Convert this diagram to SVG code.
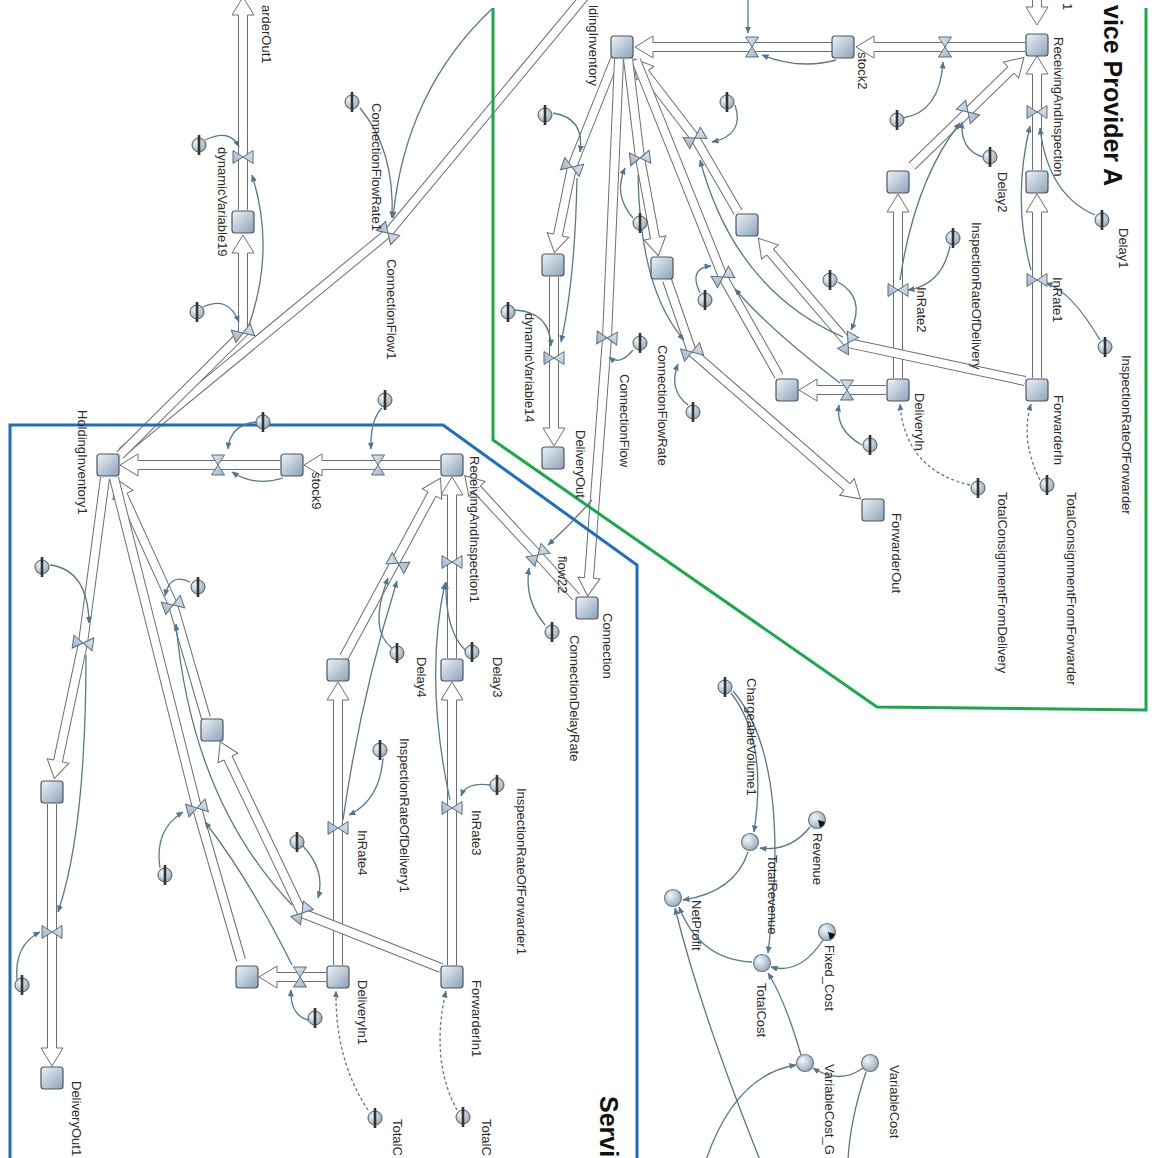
<svg xmlns="http://www.w3.org/2000/svg" xmlns:xlink="http://www.w3.org/1999/xlink" width="1155" height="1158" viewBox="0 0 1155 1158">
<style>
.bg{fill:#fff}
.po{fill:none;stroke:#6e6e6e;stroke-width:10;stroke-linejoin:miter}
.pi{fill:none;stroke:#fff;stroke-width:8;stroke-linejoin:miter}
.pa{marker-end:url(#pah)}
.cn{fill:none;stroke:#56798f;stroke-width:1.3;marker-end:url(#cah)}
.cx{fill:none;stroke:#56798f;stroke-width:1.3}
.dc{stroke-dasharray:3 2.5}
.lb{font-family:"Liberation Sans",Arial,sans-serif;font-size:13px;fill:#2b2b2b}
.tt{font-family:"Liberation Sans",Arial,sans-serif;font-size:25px;font-weight:bold;fill:#111}
.gb{fill:none;stroke:#19a84a;stroke-width:3}
.bb{fill:none;stroke:#1b6fc2;stroke-width:3}
</style>
<defs>
<linearGradient id="sg" x1="0" y1="0" x2="1" y2="1"><stop offset="0" stop-color="#eef3f7"/><stop offset="1" stop-color="#8aa2b8"/></linearGradient>
<radialGradient id="cg" cx="0.35" cy="0.35" r="0.75"><stop offset="0" stop-color="#f2f6f9"/><stop offset="1" stop-color="#8ea4b7"/></radialGradient>
<linearGradient id="vg" x1="0" y1="0" x2="1" y2="1"><stop offset="0" stop-color="#dbe6ee"/><stop offset="1" stop-color="#9fb6c8"/></linearGradient>
<marker id="pah" markerUnits="userSpaceOnUse" orient="auto" viewBox="-2 -13 26 26" markerWidth="26" markerHeight="26" refX="0" refY="0" overflow="visible"><path d="M0,-4.5 L0,-11 L18,0 L0,11 L0,4.5" fill="#fff" stroke="#6e6e6e" stroke-width="1"/></marker>
<marker id="cah" markerUnits="userSpaceOnUse" orient="auto" viewBox="0 0 7 6" markerWidth="7" markerHeight="6" refX="6.5" refY="3"><path d="M0,0 L7,3 L0,6 Z" fill="#4f7590"/></marker>
<rect id="stk" x="-11" y="-11" width="22" height="22" rx="3" fill="url(#sg)" stroke="#4b5660" stroke-width="1.2"/>
<g id="vlv"><path d="M-6.5,-10 L6.5,-10 L0,0 Z M-6.5,10 L6.5,10 L0,0 Z" fill="url(#vg)" stroke="#5d6d79" stroke-width="1"/></g>
<g id="gh"><circle r="7" fill="url(#cg)" stroke="#555" stroke-width="1"/><line x1="0" y1="-10" x2="0" y2="10" stroke="#333" stroke-width="2.6"/></g>
<circle id="cv" r="8.5" fill="url(#cg)" stroke="#6a7884" stroke-width="1.2"/>
<path id="wedge" d="M1,0 L8,2 A8,8 0 0 1 3,7.5 Z" fill="#111"/>
<path id="p1" d="M832 47H653"/>
<path id="p2" d="M1025 47H874"/>
<path id="p3" d="M1037 -10V7"/>
<path id="p4" d="M1037 170V74"/>
<path id="p5" d="M1037 378V212"/>
<path id="p6" d="M912 166L1011 70"/>
<path id="p7" d="M898 378V212"/>
<path id="p8" d="M1025 381L848 343L770 252"/>
<path id="p9" d="M738 212L695 138L645 73"/>
<path id="p10" d="M886 390H817"/>
<path id="p11" d="M779 376L723 277L636 60"/>
<path id="p12" d="M628 59L640 158L655 238"/>
<path id="p13" d="M667 280L692 352L847 487"/>
<path id="p14" d="M615 59L572 167L558 235"/>
<path id="p15" d="M554 277V428"/>
<path id="p16" d="M619 59L607 338L589 578"/>
<path id="p17" d="M590 -10L388 233L122 452"/>
<path id="p18" d="M120 455L243 333L243 253"/>
<path id="p19" d="M243 210V15"/>
<path id="p20" d="M280 465H138"/>
<path id="p21" d="M440 465H322"/>
<path id="p22" d="M452 658V495"/>
<path id="p23" d="M452 965V700"/>
<path id="p24" d="M344 657L432 494"/>
<path id="p25" d="M338 965V700"/>
<path id="p26" d="M576 597L538 555L477 489"/>
<path id="p27" d="M105 478L83 643L58 761"/>
<path id="p28" d="M52 804V1048"/>
<path id="p29" d="M206 718L173 605L123 495"/>
<path id="p30" d="M441 968L302 913L228 758"/>
<path id="p31" d="M241 960L197 808L114 478"/>
<path id="p32" d="M326 977H277"/>
</defs>
<rect class="bg" x="0" y="0" width="1155" height="1158"/>

<g id="pipes">
<use href="#p1" class="po"/><use href="#p1" class="pi pa"/>
<use href="#p2" class="po"/><use href="#p2" class="pi pa"/>
<use href="#p3" class="po"/><use href="#p3" class="pi pa"/>
<use href="#p4" class="po"/><use href="#p4" class="pi pa"/>
<use href="#p5" class="po"/><use href="#p5" class="pi pa"/>
<use href="#p6" class="po"/><use href="#p6" class="pi pa"/>
<use href="#p7" class="po"/><use href="#p7" class="pi pa"/>
<use href="#p8" class="po"/><use href="#p8" class="pi pa"/>
<use href="#p9" class="po"/><use href="#p9" class="pi pa"/>
<use href="#p10" class="po"/><use href="#p10" class="pi pa"/>
<use href="#p11" class="po"/><use href="#p11" class="pi"/>
<use href="#p12" class="po"/><use href="#p12" class="pi pa"/>
<use href="#p13" class="po"/><use href="#p13" class="pi pa"/>
<use href="#p14" class="po"/><use href="#p14" class="pi pa"/>
<use href="#p15" class="po"/><use href="#p15" class="pi pa"/>
<use href="#p16" class="po"/><use href="#p16" class="pi pa"/>
<use href="#p17" class="po"/><use href="#p17" class="pi"/>
<use href="#p18" class="po"/><use href="#p18" class="pi pa"/>
<use href="#p19" class="po"/><use href="#p19" class="pi pa"/>
<use href="#p20" class="po"/><use href="#p20" class="pi pa"/>
<use href="#p21" class="po"/><use href="#p21" class="pi pa"/>
<use href="#p22" class="po"/><use href="#p22" class="pi pa"/>
<use href="#p23" class="po"/><use href="#p23" class="pi pa"/>
<use href="#p24" class="po"/><use href="#p24" class="pi pa"/>
<use href="#p25" class="po"/><use href="#p25" class="pi pa"/>
<use href="#p26" class="po"/><use href="#p26" class="pi pa"/>
<use href="#p27" class="po"/><use href="#p27" class="pi pa"/>
<use href="#p28" class="po"/><use href="#p28" class="pi pa"/>
<use href="#p29" class="po"/><use href="#p29" class="pi pa"/>
<use href="#p30" class="po"/><use href="#p30" class="pi pa"/>
<use href="#p31" class="po"/><use href="#p31" class="pi"/>
<use href="#p32" class="po"/><use href="#p32" class="pi pa"/>
</g>

<g id="boundaries">
<path class="gb" d="M493 8V440L877 707L1146 710V8"/>
<path class="bb" d="M10 1160V425H443L637 565V1160"/>
</g>

<g id="connectors">
<path class="cn" d="M748 0V33"/>
<path class="cn" d="M836 60Q800 70 762 55"/>
<path class="cn" d="M903 118Q940 112 943 62"/>
<path class="cn" d="M983 157Q960 150 962 122"/>
<path class="cn" d="M1095 215Q1048 195 1040 128"/>
<path class="cn" d="M1031 270Q1012 200 1030 126"/>
<path class="cn" d="M1100 340Q1072 292 1046 283"/>
<path class="cn" d="M950 246Q942 285 908 290"/>
<path class="cn" d="M900 280Q915 180 960 123"/>
<path class="cn" d="M735 105Q745 135 712 142"/>
<path class="cn" d="M843 337Q735 290 700 160"/>
<path class="cn" d="M840 383Q770 330 735 289"/>
<path class="cn" d="M838 282Q866 298 851 330"/>
<path class="cn" d="M700 293Q688 268 711 266"/>
<path class="cn" d="M633 218Q613 195 625 168"/>
<path class="cn" d="M638 175Q640 290 684 340"/>
<path class="cn" d="M633 350Q620 366 609 357"/>
<path class="cn" d="M688 405Q668 390 678 364"/>
<path class="cn" d="M862 445Q835 430 839 405"/>
<path class="cn" d="M553 113Q585 118 580 152"/>
<path class="cn" d="M577 178Q575 280 561 342"/>
<path class="cn" d="M515 310Q550 312 551 346"/>
<path class="cn" d="M360 108Q395 150 392 218"/>
<path class="cn" d="M493 8Q405 90 393 218"/>
<path class="cn" d="M205 140Q230 128 239 147"/>
<path class="cn" d="M203 307Q228 295 239 322"/>
<path class="cn" d="M248 328Q276 250 252 175"/>
<path class="cn dc" d="M1040 480Q1020 440 1031 404"/>
<path class="cn dc" d="M970 485Q905 470 900 404"/>
<path class="cn" d="M256 422Q230 425 228 449"/>
<path class="cn" d="M283 478Q255 487 232 472"/>
<path class="cn" d="M382 408Q370 420 371 449"/>
<path class="cn" d="M465 650Q445 630 446 582"/>
<path class="cn" d="M450 800Q424 680 445 583"/>
<path class="cn" d="M490 785Q466 782 461 796"/>
<path class="cn" d="M392 648Q368 630 388 578"/>
<path class="cn" d="M343 820Q360 700 397 581"/>
<path class="cn" d="M383 758Q380 800 349 815"/>
<path class="cn" d="M50 565Q88 570 89 623"/>
<path class="cn" d="M86 655Q86 830 58 912"/>
<path class="cn" d="M17 980Q14 945 40 932"/>
<path class="cn" d="M190 582Q170 572 165 596"/>
<path class="cn" d="M292 905Q192 800 176 624"/>
<path class="cn" d="M292 965Q250 880 205 822"/>
<path class="cn" d="M160 868Q154 830 183 812"/>
<path class="cn" d="M302 845Q326 870 318 898"/>
<path class="cn" d="M308 1020Q290 1015 291 990"/>
<path class="cn" d="M592 500Q570 525 548 545"/>
<path class="cn" d="M545 625Q524 600 529 568"/>
<path class="cn dc" d="M368 1110Q335 1060 336 991"/>
<path class="cn dc" d="M457 1110Q430 1060 446 991"/>
<path class="cn" d="M731 693Q768 740 754 832"/>
<path class="cn" d="M733 691Q792 760 768 953"/>
<path class="cn" d="M810 827Q790 852 760 848"/>
<path class="cn" d="M748 852Q735 892 683 900"/>
<path class="cn" d="M752 962Q700 960 679 907"/>
<path class="cn" d="M823 940Q800 975 771 967"/>
<path class="cn" d="M801 1055Q785 1000 768 973"/>
<path class="cn" d="M863 1068Q840 1085 813 1068"/>
<path class="cn" d="M760 1160Q700 1010 675 908"/>
<path class="cn" d="M706 1160Q735 1075 796 1065"/>
<path class="cx" d="M866 1072Q850 1120 848 1160"/>
</g>

<g id="title-A"><text class="tt" transform="translate(1104,5) rotate(90)">vice Provider A</text></g>
<g id="title-B"><text class="tt" transform="translate(600,1096) rotate(90)">Servi</text></g>

<g id="HoldingInventory"><use href="#stk" x="622" y="47"/><text class="lb" transform="translate(589,5) rotate(90)">ldingInventory</text></g>
<g id="stock2"><use href="#stk" x="843" y="47"/><text class="lb" transform="translate(858,52) rotate(90)">stock2</text></g>
<g id="ReceivingAndInspection"><use href="#stk" x="1037" y="45"/><text class="lb" transform="translate(1054,37) rotate(90)">ReceivingAndInspection</text><text class="lb" transform="translate(1063,3) rotate(90)">1</text></g>
<g id="stock-ri-a"><use href="#stk" x="1037" y="182"/></g>
<g id="stock-ri-b"><use href="#stk" x="898" y="182"/></g>
<g id="stock-hi-a"><use href="#stk" x="747" y="225"/></g>
<g id="stock-hi-b"><use href="#stk" x="662" y="268"/></g>
<g id="stock-hi-c"><use href="#stk" x="553" y="265"/></g>
<g id="stock-hi-d"><use href="#stk" x="787" y="390"/></g>
<g id="DeliveryIn"><use href="#stk" x="898" y="390"/><text class="lb" transform="translate(915,393) rotate(90)">DeliveryIn</text></g>
<g id="ForwarderIn"><use href="#stk" x="1037" y="390"/><text class="lb" transform="translate(1054,395) rotate(90)">ForwarderIn</text></g>
<g id="DeliveryOut"><use href="#stk" x="553" y="458"/><text class="lb" transform="translate(576,430) rotate(90)">DeliveryOut</text></g>
<g id="ForwarderOut"><use href="#stk" x="873" y="510"/><text class="lb" transform="translate(892,513) rotate(90)">ForwarderOut</text></g>
<g id="Connection"><use href="#stk" x="587" y="608"/><text class="lb" transform="translate(603,613) rotate(90)">Connection</text></g>
<g id="stock-dv19"><use href="#stk" x="243" y="222"/><text class="lb" transform="translate(262,5) rotate(90)">arderOut1</text></g>

<g id="HoldingInventory1"><use href="#stk" x="108" y="465"/><text class="lb" transform="translate(78,410) rotate(90)">HoldingInventory1</text></g>
<g id="stock9"><use href="#stk" x="292" y="465"/><text class="lb" transform="translate(312,472) rotate(90)">stock9</text></g>
<g id="ReceivingAndInspection1"><use href="#stk" x="452" y="465"/><text class="lb" transform="translate(470,456) rotate(90)">ReceivingAndInspection1</text></g>
<g id="stock-ri1-a"><use href="#stk" x="452" y="670"/></g>
<g id="stock-ri1-b"><use href="#stk" x="338" y="670"/></g>
<g id="stock-hi1-a"><use href="#stk" x="212" y="730"/></g>
<g id="stock-hi1-b"><use href="#stk" x="52" y="792"/></g>
<g id="DeliveryOut1"><use href="#stk" x="52" y="1078"/><text class="lb" transform="translate(72,1081) rotate(90)">DeliveryOut1</text></g>
<g id="stock-hi1-c"><use href="#stk" x="247" y="977"/></g>
<g id="DeliveryIn1"><use href="#stk" x="338" y="977"/><text class="lb" transform="translate(358,980) rotate(90)">DeliveryIn1</text></g>
<g id="ForwarderIn1"><use href="#stk" x="452" y="977"/><text class="lb" transform="translate(472,980) rotate(90)">ForwarderIn1</text></g>

<g id="valves">
<use href="#vlv" transform="translate(752,47)"/>
<use href="#vlv" transform="translate(945,47)"/>
<g id="flow-ri"><use href="#vlv" transform="translate(1037,112) rotate(90)"/></g>
<g id="InRate1"><use href="#vlv" transform="translate(1037,280) rotate(90)"/><text class="lb" transform="translate(1053,277) rotate(90)">InRate1</text></g>
<use href="#vlv" transform="translate(968,112) rotate(-44)"/>
<g id="InRate2"><use href="#vlv" transform="translate(898,290) rotate(90)"/><text class="lb" transform="translate(917,287) rotate(90)">InRate2</text></g>
<use href="#vlv" transform="translate(848,343) rotate(30)"/>
<use href="#vlv" transform="translate(847,390)"/>
<use href="#vlv" transform="translate(695,138) rotate(59)"/>
<use href="#vlv" transform="translate(723,277) rotate(60)"/>
<use href="#vlv" transform="translate(640,158) rotate(83)"/>
<g id="ConnectionFlowRate"><use href="#vlv" transform="translate(692,352) rotate(72)"/><text class="lb" transform="translate(658,345) rotate(90)">ConnectionFlowRate</text></g>
<use href="#vlv" transform="translate(572,167) rotate(110)"/>
<g id="dynamicVariable14"><use href="#vlv" transform="translate(554,358) rotate(90)"/><text class="lb" transform="translate(525,313) rotate(90)">dynamicVariable14</text></g>
<g id="ConnectionFlow"><use href="#vlv" transform="translate(607,338) rotate(93)"/><text class="lb" transform="translate(620,374) rotate(90)">ConnectionFlow</text></g>
<g id="ConnectionFlow1"><use href="#vlv" transform="translate(388,233) rotate(135)"/><text class="lb" transform="translate(387,259) rotate(90)">ConnectionFlow1</text></g>
<g id="dynamicVariable19"><use href="#vlv" transform="translate(243,157) rotate(90)"/><text class="lb" transform="translate(218,147) rotate(90)">dynamicVariable19</text></g>
<use href="#vlv" transform="translate(243,333) rotate(70)"/>
<use href="#vlv" transform="translate(218,465)"/>
<use href="#vlv" transform="translate(378,465)"/>
<use href="#vlv" transform="translate(452,562) rotate(90)"/>
<g id="InRate3"><use href="#vlv" transform="translate(452,808) rotate(90)"/><text class="lb" transform="translate(472,810) rotate(90)">InRate3</text></g>
<use href="#vlv" transform="translate(398,563) rotate(-62)"/>
<g id="InRate4"><use href="#vlv" transform="translate(338,828) rotate(90)"/><text class="lb" transform="translate(358,830) rotate(90)">InRate4</text></g>
<g id="flow22"><use href="#vlv" transform="translate(538,555) rotate(48)"/><text class="lb" transform="translate(558,556) rotate(90)">flow22</text></g>
<use href="#vlv" transform="translate(83,643) rotate(98)"/>
<use href="#vlv" transform="translate(52,932) rotate(90)"/>
<use href="#vlv" transform="translate(173,605) rotate(70)"/>
<use href="#vlv" transform="translate(302,913) rotate(40)"/>
<use href="#vlv" transform="translate(197,808) rotate(75)"/>
<use href="#vlv" transform="translate(300,977)"/>
</g>

<g id="ghosts">
<use href="#gh" x="199" y="145"/>
<use href="#gh" x="197" y="312"/>
<g id="ConnectionFlowRate1"><use href="#gh" x="352" y="102"/><text class="lb" transform="translate(372,103) rotate(90)">ConnectionFlowRate1</text></g>
<use href="#gh" x="545" y="115"/>
<use href="#gh" x="508" y="312"/>
<use href="#gh" x="640" y="223"/>
<use href="#gh" x="727" y="102"/>
<use href="#gh" x="705" y="300"/>
<use href="#gh" x="640" y="343"/>
<use href="#gh" x="693" y="412"/>
<use href="#gh" x="830" y="280"/>
<use href="#gh" x="870" y="445"/>
<use href="#gh" x="897" y="120"/>
<g id="Delay2"><use href="#gh" x="990" y="157"/><text class="lb" transform="translate(998,172) rotate(90)">Delay2</text></g>
<g id="InspectionRateOfDelivery"><use href="#gh" x="953" y="238"/><text class="lb" transform="translate(972,222) rotate(90)">InspectionRateOfDelivery</text></g>
<g id="Delay1"><use href="#gh" x="1102" y="220"/><text class="lb" transform="translate(1119,228) rotate(90)">Delay1</text></g>
<g id="InspectionRateOfForwarder"><use href="#gh" x="1105" y="347"/><text class="lb" transform="translate(1122,355) rotate(90)">InspectionRateOfForwarder</text></g>
<g id="TotalConsignmentFromForwarder"><use href="#gh" x="1047" y="485"/><text class="lb" transform="translate(1067,492) rotate(90)">TotalConsignmentFromForwarder</text></g>
<g id="TotalConsignmentFromDelivery"><use href="#gh" x="978" y="488"/><text class="lb" transform="translate(998,492) rotate(90)">TotalConsignmentFromDelivery</text></g>
<use href="#gh" x="263" y="422"/>
<use href="#gh" x="385" y="400"/>
<use href="#gh" x="42" y="567"/>
<use href="#gh" x="198" y="587"/>
<g id="Delay4"><use href="#gh" x="397" y="653"/><text class="lb" transform="translate(417,657) rotate(90)">Delay4</text></g>
<g id="Delay3"><use href="#gh" x="472" y="652"/><text class="lb" transform="translate(493,657) rotate(90)">Delay3</text></g>
<g id="ConnectionDelayRate"><use href="#gh" x="552" y="632"/><text class="lb" transform="translate(570,635) rotate(90)">ConnectionDelayRate</text></g>
<g id="InspectionRateOfDelivery1"><use href="#gh" x="380" y="750"/><text class="lb" transform="translate(400,738) rotate(90)">InspectionRateOfDelivery1</text></g>
<g id="InspectionRateOfForwarder1"><use href="#gh" x="497" y="785"/><text class="lb" transform="translate(517,788) rotate(90)">InspectionRateOfForwarder1</text></g>
<use href="#gh" x="165" y="875"/>
<use href="#gh" x="297" y="842"/>
<use href="#gh" x="22" y="985"/>
<use href="#gh" x="315" y="1018"/>
<g id="TotalConsignmentFromDelivery1"><use href="#gh" x="375" y="1118"/><text class="lb" transform="translate(393,1119) rotate(90)">TotalC</text></g>
<g id="TotalConsignmentFromForwarder1"><use href="#gh" x="463" y="1117"/><text class="lb" transform="translate(482,1119) rotate(90)">TotalC</text></g>
<g id="ChargeableVolume1"><use href="#gh" x="725" y="687"/><text class="lb" transform="translate(747,678) rotate(90)">ChargeableVolume1</text></g>
</g>

<g id="TotalRevenue"><use href="#cv" x="750" y="842"/><text class="lb" transform="translate(768,855) rotate(90)">TotalRevenue</text></g>
<g id="Revenue"><use href="#cv" x="817" y="820"/><use href="#wedge" x="817" y="820"/><text class="lb" transform="translate(813,833) rotate(90)">Revenue</text></g>
<g id="NetProfit"><use href="#cv" x="673" y="898"/><text class="lb" transform="translate(692,900) rotate(90)">NetProfit</text></g>
<g id="Fixed_Cost"><use href="#cv" x="827" y="932"/><use href="#wedge" x="827" y="932"/><text class="lb" transform="translate(825,945) rotate(90)">Fixed_Cost</text></g>
<g id="TotalCost"><use href="#cv" x="762" y="963"/><text class="lb" transform="translate(757,983) rotate(90)">TotalCost</text></g>
<g id="VariableCost_G"><use href="#cv" x="805" y="1063"/><text class="lb" transform="translate(825,1064) rotate(90)">VariableCost_G</text></g>
<g id="VariableCost"><use href="#cv" x="870" y="1063"/><text class="lb" transform="translate(890,1065) rotate(90)">VariableCost</text></g>
</svg>
